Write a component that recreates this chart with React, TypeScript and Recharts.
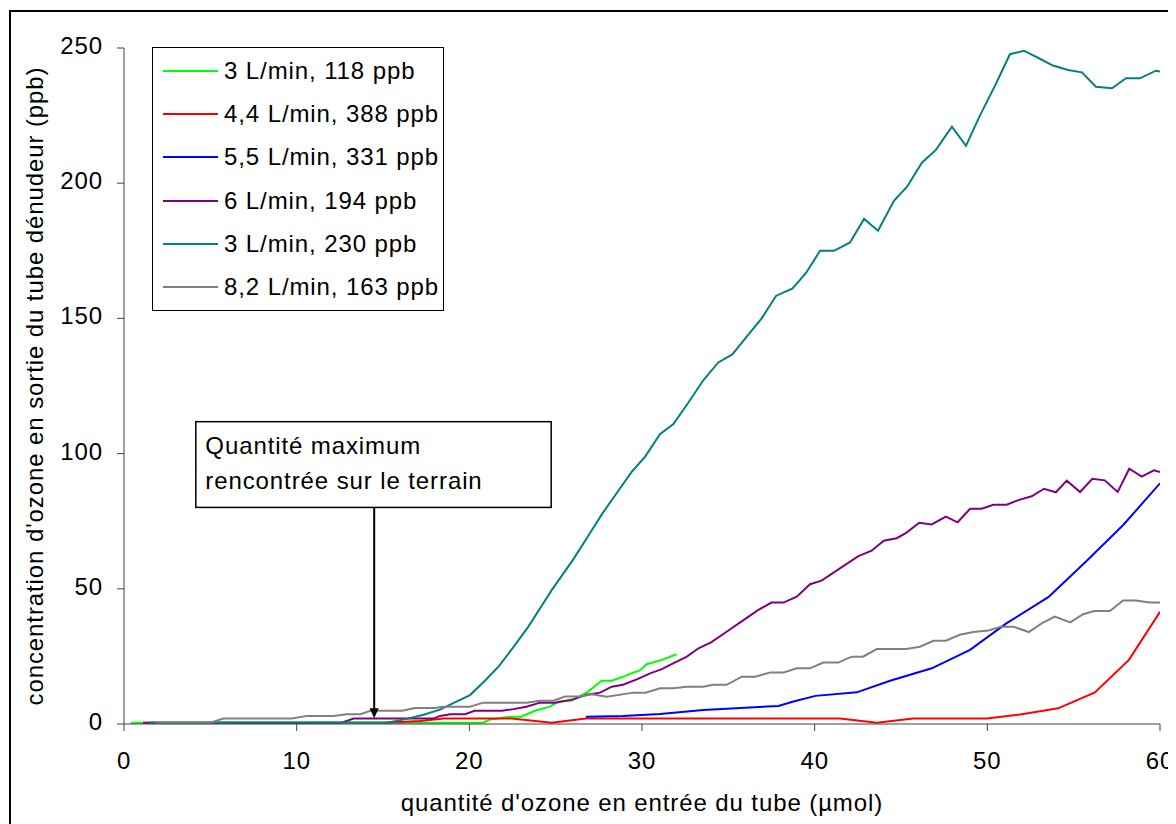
import React from 'react'
import {
  LineChart,
  Line,
  XAxis,
  YAxis,
  Legend,
  ReferenceArea,
  ReferenceLine
} from 'recharts'

const FONT = '"Liberation Sans", Arial, sans-serif'

// [quantité d'ozone (µmol), concentration (ppb)]
const green118: [number, number][] = [
  [0.4, 0.5], [20.8, 0.5], [21.2, 1.7], [22.36, 2.7], [23.0, 2.7], [23.8, 4.9],
  [24.67, 6.4], [25.16, 8.3], [25.9, 8.6], [26.8, 11.6], [27.67, 16.0], [28.25, 16.0],
  [29.0, 17.7], [29.5, 19.0], [29.85, 19.7], [30.28, 22.1], [31.15, 23.7], [32.0, 25.8]
]

const red388: [number, number][] = [
  [15.1, 0.5], [17.15, 1.1], [18.5, 2.0], [22.45, 2.0], [24.77, 0.5], [26.75, 2.0],
  [41.47, 2.0], [43.6, 0.5], [45.7, 2.0], [49.97, 2.0], [52.0, 3.6], [54.1, 5.8],
  [56.23, 11.7], [58.2, 23.7], [60, 41.5]
]

const blue331: [number, number | null][] = [
  [6.6, 0.1], [10.6, 0.1], [18, null], [26.75, 2.7], [28.9, 3.0], [31.05, 3.7],
  [33.55, 5.2], [37.9, 6.7], [38.77, 8.3], [40.05, 10.4], [42.44, 11.7], [44.37, 16.0],
  [46.78, 20.6], [49.0, 27.4], [51.1, 37.2], [53.53, 46.9], [55.7, 60.0], [57.87, 73.6],
  [60, 89.0]
]

const purple194: [number, number][] = [
  [1.1, 0.5], [12.6, 0.5], [13.3, 2.0], [17.9, 2.0], [18.3, 3.0], [18.9, 3.6],
  [19.76, 3.6], [20.3, 4.9], [21.9, 4.9], [22.55, 5.5], [23.3, 6.4], [24.1, 7.9],
  [24.97, 7.9], [26.0, 9.1], [26.8, 10.8], [27.57, 11.6], [28.25, 13.8], [28.9, 14.5],
  [29.7, 16.5], [30.47, 18.7], [31.15, 20.3], [31.8, 22.4], [32.6, 24.9], [33.27, 28.0],
  [34.0, 30.2], [34.9, 34.1], [35.9, 38.5], [36.74, 42.2], [37.5, 44.9], [38.2, 44.9],
  [38.96, 47.1], [39.73, 51.7], [40.4, 53.0], [42.53, 62.1], [43.3, 64.1], [44.0, 67.8],
  [44.75, 68.7], [45.3, 70.7], [46.06, 74.4], [46.78, 73.8], [47.6, 76.7], [48.28, 74.6],
  [49.0, 79.6], [49.67, 79.6], [50.35, 81.1], [51.12, 81.1], [51.8, 82.8], [52.57, 84.2],
  [53.28, 87.0], [53.97, 85.7], [54.6, 90.0], [55.37, 85.8], [56.08, 90.7], [56.8, 90.1],
  [57.55, 85.8], [58.22, 94.4], [58.94, 91.5], [59.65, 93.8], [60, 93.2]
]

const teal230: [number, number][] = [
  [1.5, 0.6], [15.3, 0.6], [16.3, 1.8], [17.3, 3.3], [18.3, 5.3], [19.1, 7.8],
  [20.04, 10.7], [20.9, 16.0], [21.69, 21.2], [22.55, 28.4], [23.42, 36.0], [24.1, 42.8],
  [24.77, 49.5], [26.0, 60.7], [26.8, 68.7], [27.71, 77.9], [28.6, 86.0], [29.41, 93.3],
  [30.18, 98.9], [31.04, 107.2], [31.82, 110.9], [32.7, 119.0], [33.56, 127.2], [34.42, 133.7],
  [35.23, 136.7], [36.1, 143.5], [36.93, 150.0], [37.76, 158.3], [38.72, 161.1], [39.5, 166.8],
  [40.31, 175.0], [41.12, 175.0], [42.05, 178.1], [42.86, 186.8], [43.67, 182.4], [44.59, 193.5],
  [45.35, 198.7], [46.21, 207.6], [47.02, 212.3], [47.95, 220.9], [48.76, 213.8], [49.57, 225.0],
  [50.44, 236.0], [51.31, 247.7], [52.12, 249.0], [52.93, 246.4], [53.8, 243.5], [54.67, 241.9],
  [55.48, 241.0], [56.29, 235.7], [57.22, 235.1], [58.03, 238.8], [58.84, 238.8], [59.76, 241.6],
  [60, 241.3]
]

const gray163: [number, number][] = [
  [1.8, 0.5], [5.0, 0.5], [5.76, 2.0], [9.72, 2.0], [10.6, 3.0], [12.13, 3.0],
  [12.9, 3.6], [13.7, 3.6], [14.26, 4.9], [16.1, 4.9], [16.86, 5.9], [18.0, 5.9],
  [18.5, 6.4], [20.04, 6.4], [20.8, 7.9], [23.3, 7.9], [24.1, 8.6], [24.87, 8.6],
  [25.55, 10.2], [26.4, 10.2], [27.1, 11.0], [27.96, 10.1], [29.5, 11.6], [30.2, 11.6],
  [31.05, 13.2], [31.8, 13.2], [32.6, 13.8], [33.55, 13.8], [34.13, 14.5], [34.9, 14.5],
  [35.78, 17.5], [36.55, 17.5], [37.42, 19.0], [38.19, 19.0], [38.96, 20.6], [39.73, 20.6],
  [40.5, 22.7], [41.37, 22.7], [42.14, 24.9], [42.8, 24.9], [43.6, 27.7], [45.3, 27.7],
  [46.1, 28.6], [46.87, 30.8], [47.6, 30.8], [48.4, 33.0], [49.2, 34.0], [50.06, 34.6],
  [50.8, 36.0], [51.5, 36.0], [52.4, 34.0], [53.15, 37.2], [53.9, 39.7], [54.8, 37.6],
  [55.55, 40.6], [56.2, 41.8], [57.1, 41.8], [57.86, 45.7], [58.6, 45.7], [59.4, 44.9],
  [60, 44.9]
]

const seriesNames = [
  '3 L/min, 118 ppb',
  '4,4 L/min, 388 ppb',
  '5,5 L/min, 331 ppb',
  '6 L/min, 194 ppb',
  '3 L/min, 230 ppb',
  '8,2 L/min, 163 ppb'
]
const seriesColors = ['#00FF00', '#FF0000', '#0000FF', '#800080', '#008080', '#808080']
const seriesPoints = [green118, red388, blue331, purple194, teal230, gray163]

const xTicks = [0, 10, 20, 30, 40, 50, 60]
const yTicks = [0, 50, 100, 150, 200, 250]

const xTitle = "quantité d'ozone en entrée du tube (µmol)"
const yTitle = "concentration d'ozone en sortie du tube dénudeur (ppb)"
const noteLines = ['Quantité maximum', 'rencontrée sur le terrain']
// note box corners and arrow, in data units
const noteBox = { x1: 4.16, x2: 24.74, y1: 80.1, y2: 111.8 }
const arrowX = 14.49
const arrowTipY = 2.1

const toRows = (pts: [number, number | null][]) => pts.map(([x, y]) => ({ x, y }))

const textProps = {
  fontFamily: FONT,
  fontSize: 24,
  fill: '#000',
  letterSpacing: 0.9
}

const XTick = (props: any) => (
  <text x={props.x} y={props.y} dy={38} textAnchor='middle' {...textProps}>
    {props.payload.value}
  </text>
)

const YTick = (props: any) => (
  <text x={props.x} y={props.y} dy={6} textAnchor='end' {...textProps}>
    {props.payload.value}
  </text>
)

const XTitle = (props: any) => {
  const vb = props.viewBox || { x: 116, y: 716, width: 1036 }
  return (
    <text x={vb.x + vb.width / 2} y={vb.y + 87} textAnchor='middle' {...textProps}>
      {xTitle}
    </text>
  )
}

const YTitle = (props: any) => {
  const vb = props.viewBox || { x: 36, y: 40, height: 676 }
  const cx = vb.x - 1
  const cy = vb.y + vb.height / 2
  return (
    <text
      x={cx}
      y={cy}
      textAnchor='middle'
      transform={`rotate(-90 ${cx} ${cy})`}
      {...textProps}
    >
      {yTitle}
    </text>
  )
}

const NoteShape = (p: any) => (
  <g>
    <rect x={p.x} y={p.y} width={p.width} height={p.height} fill='#fff' stroke='#000' strokeWidth={1.5} />
    <text x={p.x + 9.5} y={p.y + 32} {...textProps}>{noteLines[0]}</text>
    <text x={p.x + 9.5} y={p.y + 67} {...textProps}>{noteLines[1]}</text>
  </g>
)

const ArrowShape = (p: any) => (
  <g>
    <line x1={p.x1} y1={p.y1} x2={p.x2} y2={p.y2 - 6} stroke='#000' strokeWidth={2} />
    <polygon
      points={`${p.x2 - 4.5},${p.y2 - 10} ${p.x2 + 4.5},${p.y2 - 10} ${p.x2},${p.y2}`}
      fill='#000'
    />
  </g>
)

const renderLegend = () => (
  <div
    style={{
      width: 292,
      height: 264,
      boxSizing: 'border-box',
      border: '1px solid #000',
      background: '#fff',
      paddingTop: 1.5
    }}
  >
    {seriesNames.map((name, i) => (
      <div
        key={name}
        style={{ display: 'flex', alignItems: 'center', height: 43.2 }}
      >
        <div style={{ marginLeft: 10, width: 55, height: 2, background: seriesColors[i] }} />
        <span
          style={{
            marginLeft: 6,
            fontFamily: FONT,
            fontSize: 24,
            letterSpacing: 0.9,
            color: '#000',
            whiteSpace: 'nowrap'
          }}
        >
          {name}
        </span>
      </div>
    ))}
  </div>
)

export default function App() {
  return (
    <div style={{ position: 'relative', width: 1168, height: 816, overflow: 'hidden', background: '#fff' }}>
      <div
        style={{
          position: 'absolute',
          left: 1,
          top: 2,
          width: 1400,
          height: 1000,
          border: '2px solid #000',
          boxSizing: 'border-box'
        }}
      />
      <div style={{ position: 'absolute', left: 0, top: 0 }}>
        <LineChart width={1168} height={816} margin={{ top: 40, right: 16, bottom: 40, left: 36 }}>
          <XAxis
            type='number'
            dataKey='x'
            domain={[0, 60]}
            ticks={xTicks}
            allowDataOverflow
            height={60}
            tickSize={7}
            tickMargin={0}
            stroke='#404040'
            tick={XTick}
            label={XTitle}
          />
          <YAxis
            type='number'
            domain={[0, 250]}
            ticks={yTicks}
            allowDataOverflow
            width={80}
            tickSize={7}
            tickMargin={14}
            stroke='#404040'
            tick={YTick}
            label={YTitle}
          />
          <Legend
            layout='vertical'
            align='center'
            verticalAlign='middle'
            content={renderLegend}
            wrapperStyle={{ left: 144, top: 39, width: 292, height: 264 }}
          />
          {seriesNames.map((name, i) => (
            <Line
              key={name}
              name={name}
              data={toRows(seriesPoints[i])}
              dataKey='y'
              type='linear'
              stroke={seriesColors[i]}
              strokeWidth={2}
              dot={false}
              activeDot={false}
              isAnimationActive={false}
            />
          ))}
          <ReferenceArea
            x1={noteBox.x1}
            x2={noteBox.x2}
            y1={noteBox.y1}
            y2={noteBox.y2}
            ifOverflow='visible'
            shape={NoteShape}
          />
          <ReferenceLine
            segment={[
              { x: arrowX, y: noteBox.y1 },
              { x: arrowX, y: arrowTipY }
            ]}
            ifOverflow='visible'
            shape={ArrowShape}
          />
        </LineChart>
      </div>
    </div>
  )
}
